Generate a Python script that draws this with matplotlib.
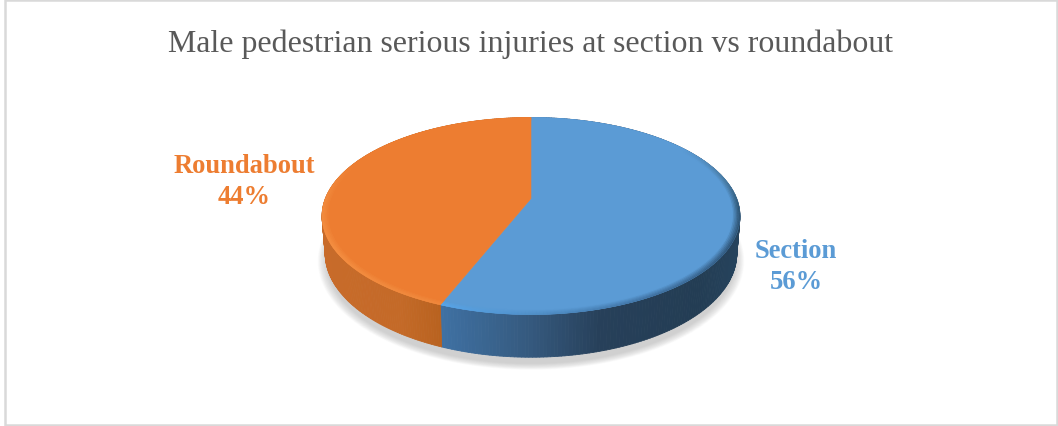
import numpy as np
import matplotlib
matplotlib.use("Agg")
import matplotlib.pyplot as plt
from matplotlib.collections import PolyCollection
from matplotlib.colors import to_rgb
from matplotlib.patches import Rectangle, Polygon

title = "Male pedestrian serious injuries at section vs roundabout"
categories = ["Section", "Roundabout"]
shares = [56, 44]
face_colors = ["#5B9BD5", "#ED7D31"]
label_xy = [(796, 267), (244, 182)]

# Lighting stops along the rim and the side wall, per slice
rim_stops = {
    "Section": ([0, 55, 78, 95, 115, 150, 180, 202],
                ["#5B9BD5", "#5B9BD5", "#47799F", "#2E5472", "#2F5578", "#3F70A0", "#4F8FC8", "#58A8EE"]),
    "Roundabout": ([201, 240, 270, 295, 360],
                   ["#F08A3E", "#F59043", "#F28B3E", "#ED7D31", "#ED7D31"]),
}
wall_stops = {
    "Section": ([441, 530, 600, 700, 745],
                ["#3F71A3", "#35597E", "#27405A", "#233D54", "#26445E"]),
    "Roundabout": ([320, 400, 441],
                   ["#C86B2A", "#C46A28", "#B8621F"]),
}

W, H = 1058, 427
CX, CY = 531, 199.5     # screen position of the disc centre
B, A, K = 205.6, 95.4, 0.178   # horizontal radius, vertical radius, perspective strength
DEPTH, FLOOR_SCALE = 36.5, 0.985


def project(theta_deg, r=1.0, drop=0.0, scale=1.0):
    """Perspective view of a disc; theta runs clockwise from twelve o'clock."""
    t = np.radians(theta_deg)
    px, py = r * np.sin(t), r * np.cos(t)
    w = 1 + K * py
    return CX + scale * B * px / w, CY - scale * A * py / w + drop / w


def lerp_colors(v, stops):
    pos, cols = stops
    rgb = np.array([to_rgb(c) for c in cols])
    return np.column_stack([np.interp(v, pos, rgb[:, i]) for i in range(3)])


fig = plt.figure(figsize=(W / 100, H / 100), dpi=100, facecolor="white")
ax = fig.add_axes([0, 0, 1, 1])
ax.set_xlim(0, W)
ax.set_ylim(H, 0)
ax.axis("off")

ax.add_patch(Rectangle((5, 1), W - 6, H - 2, fc="white", ec="#D9D9D9", lw=1.8))

# Soft drop shadow under the disc
ring = np.linspace(0, 360, 361)
for grow in np.linspace(1.035, 0.995, 14):
    sx, sy = project(ring, r=grow, drop=DEPTH + 6, scale=FLOOR_SCALE)
    ax.add_patch(Polygon(np.column_stack([sx, sy]), fc="#808080", ec="none", alpha=0.028))

edges = np.cumsum([0] + shares) / sum(shares) * 360

# Side wall, one thin quad at a time so the shading follows the x position
for name, a0, a1 in zip(categories, edges[:-1], edges[1:]):
    th = np.linspace(a0, a1, 240)
    tx, ty = project(th)
    fx, fy = project(th, drop=DEPTH, scale=FLOOR_SCALE)
    quads = [[(tx[i], ty[i]), (tx[i + 1], ty[i + 1]), (fx[i + 1], fy[i + 1]), (fx[i], fy[i])]
             for i in range(len(th) - 1)]
    cols = lerp_colors((tx[:-1] + tx[1:]) / 2, wall_stops[name])
    ax.add_collection(PolyCollection(quads, facecolors=cols, edgecolors=cols, linewidths=0.6))

# Top face of each slice, then its bevelled rim
for name, color, a0, a1 in zip(categories, face_colors, edges[:-1], edges[1:]):
    th = np.linspace(a0, a1, 240)
    ox, oy = project(th)
    ax.add_patch(Polygon(np.column_stack([np.r_[CX, ox], np.r_[CY, oy]]), fc=color, ec=color, lw=0.4))
    base = np.array(to_rgb(color))
    rim = lerp_colors(th, rim_stops[name])
    radii = np.linspace(1.0, 0.96, 7)
    for j in range(len(radii) - 1):
        ax_, ay_ = project(th, r=radii[j])
        bx_, by_ = project(th, r=radii[j + 1])
        mix = (j / (len(radii) - 2)) ** 1.1
        cols = rim * (1 - mix) + base * mix
        quads = [[(ax_[i], ay_[i]), (ax_[i + 1], ay_[i + 1]), (bx_[i + 1], by_[i + 1]), (bx_[i], by_[i])]
                 for i in range(len(th) - 1)]
        ax.add_collection(PolyCollection(quads, facecolors=cols[:-1], edgecolors=cols[:-1], linewidths=0.3))

ax.text(530.5, 44, title, family="Liberation Serif", fontsize=22.95, color="#595959",
        ha="center", va="center")

for name, share, color, (lx, ly) in zip(categories, shares, face_colors, label_xy):
    ax.text(lx, ly, f"{name}\n{share}%", family="Liberation Serif", fontsize=19.1, weight="bold",
            color=color, ha="center", va="center", linespacing=1.33)

fig.savefig("out.png", dpi=100, facecolor="white")
